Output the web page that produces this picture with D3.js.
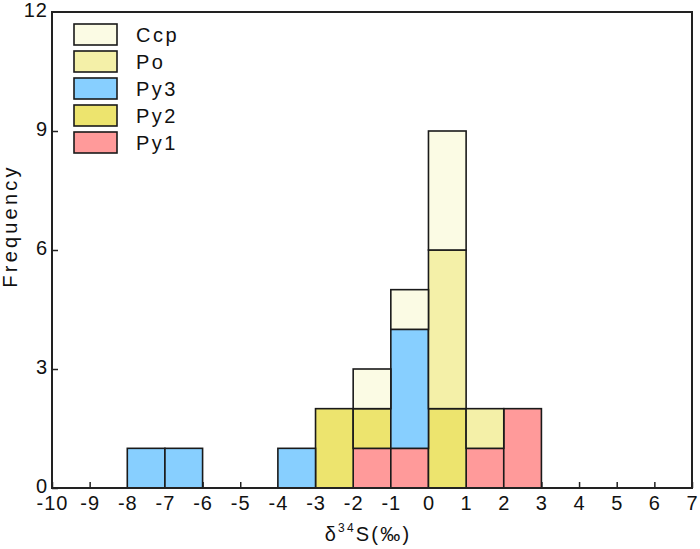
<!DOCTYPE html>
<html>
<head>
<meta charset="utf-8">
<script src="https://cdn.jsdelivr.net/npm/d3@7"></script>
<style>
  body { margin: 0; background: #fff; }
  text { font-family: "Liberation Sans", Arial, sans-serif; fill: #111; }
</style>
</head>
<body>
<div id="g-container"></div>
<script>
	// bins are 1 permil wide, keyed by their left edge
	var binStart = [-8, -7, -4, -3, -2, -1, 0, 1, 2]
	var py1 = [0, 0, 0, 0, 1, 1, 0, 1, 2]
	var py2 = [0, 0, 0, 2, 1, 0, 2, 0, 0]
	var py3 = [1, 1, 1, 0, 0, 3, 0, 0, 0]
	var po  = [0, 0, 0, 0, 0, 0, 4, 1, 0]
	var ccp = [0, 0, 0, 0, 1, 1, 3, 0, 0]

	var seriesNames = ["Py1", "Py2", "Py3", "Po", "Ccp"]
	var seriesColors = ["#FF9A9A", "#EDE46E", "#87CFFF", "#F4F0A8", "#FBFBE4"]
	var legendOrder = ["Ccp", "Po", "Py3", "Py2", "Py1"]
	var xTicks = d3.range(-10, 8)
	var yTicks = [0, 3, 6, 9, 12]

	var width = 700, height = 549
	var margin = {top: 12, right: 8, bottom: 61, left: 52}

	var svg = d3.select("#g-container").append("svg")
		.attr("width", width).attr("height", height)

	var x = d3.scaleLinear().domain([-10, 7]).range([margin.left, width - margin.right])
	var y = d3.scaleLinear().domain([0, 12]).range([height - margin.bottom, margin.top])

	var rows = binStart.map(function(b, i){
		return {bin: b, Py1: py1[i], Py2: py2[i], Py3: py3[i], Po: po[i], Ccp: ccp[i]}
	})
	var stacked = d3.stack().keys(seriesNames)(rows)
	var color = d3.scaleOrdinal().domain(seriesNames).range(seriesColors)

	// ticks first so bars cover them like in the original
	var xAxis = svg.append("g")
		.attr("transform", "translate(0," + y(0) + ")")
		.call(d3.axisBottom(x).tickValues(xTicks).tickSizeInner(-6).tickSizeOuter(0).tickPadding(8))
	xAxis.select(".domain").remove()
	xAxis.selectAll("line").attr("stroke", "#222").attr("stroke-width", 1.5)
	xAxis.selectAll("text").style("font-size", "20px").style("letter-spacing", "1px")
		.attr("fill", "#111").text(function(d){ return d < 0 ? "-" + Math.abs(d) : d })

	var yAxis = svg.append("g")
		.attr("transform", "translate(" + x(-10) + ",0)")
		.call(d3.axisLeft(y).tickValues(yTicks).tickSizeInner(-6).tickSizeOuter(0).tickPadding(4))
	yAxis.select(".domain").remove()
	yAxis.selectAll("line").attr("stroke", "#222").attr("stroke-width", 1.5)
	yAxis.selectAll("text").style("font-size", "20px").style("letter-spacing", "1px")
		.attr("fill", "#111").attr("dy", "0.22em")
	yAxis.selectAll(".tick").filter(function(d){ return d == 12 }).select("line").remove()

	svg.append("g").selectAll("g")
		.data(stacked)
		.join("g")
		.attr("fill", function(d){ return color(d.key) })
		.selectAll("rect")
		.data(function(d){ return d.filter(function(p){ return p[1] > p[0] }) })
		.join("rect")
		.attr("x", function(d){ return x(d.data.bin) })
		.attr("width", function(d){ return x(d.data.bin + 1) - x(d.data.bin) })
		.attr("y", function(d){ return y(d[1]) })
		.attr("height", function(d){ return y(d[0]) - y(d[1]) })
		.attr("stroke", "#1a1a1a")
		.attr("stroke-width", 1.6)

	// frame
	svg.append("rect")
		.attr("x", x(-10)).attr("y", y(12))
		.attr("width", x(7) - x(-10)).attr("height", y(0) - y(12))
		.attr("fill", "none").attr("stroke", "#222").attr("stroke-width", 2)

	// legend
	var legend = svg.append("g").selectAll("g")
		.data(legendOrder)
		.join("g")
		.attr("transform", function(d, i){ return "translate(74," + (24 + i * 27) + ")" })
	legend.append("rect")
		.attr("width", 43).attr("height", 21)
		.attr("fill", function(d){ return color(d) })
		.attr("stroke", "#1a1a1a").attr("stroke-width", 1.6)
	legend.append("text")
		.attr("x", 62).attr("y", 18)
		.style("font-size", "20px").style("letter-spacing", "2.5px")
		.text(function(d){ return d })

	// axis titles
	var xt = svg.append("text")
		.attr("x", (x(-10) + x(7)) / 2 - 4).attr("y", 541)
		.attr("text-anchor", "middle")
		.style("font-size", "20px").style("letter-spacing", "2.2px")
	xt.append("tspan").text("δ")
	xt.append("tspan").attr("dy", -9).style("font-size", "12px").text("34")
	xt.append("tspan").attr("dy", 9).text("S(‰)")

	svg.append("text")
		.attr("transform", "translate(17,226) rotate(-90)")
		.attr("text-anchor", "middle")
		.style("font-size", "20px").style("letter-spacing", "3.2px")
		.text("Frequency")
</script>
</body>
</html>
